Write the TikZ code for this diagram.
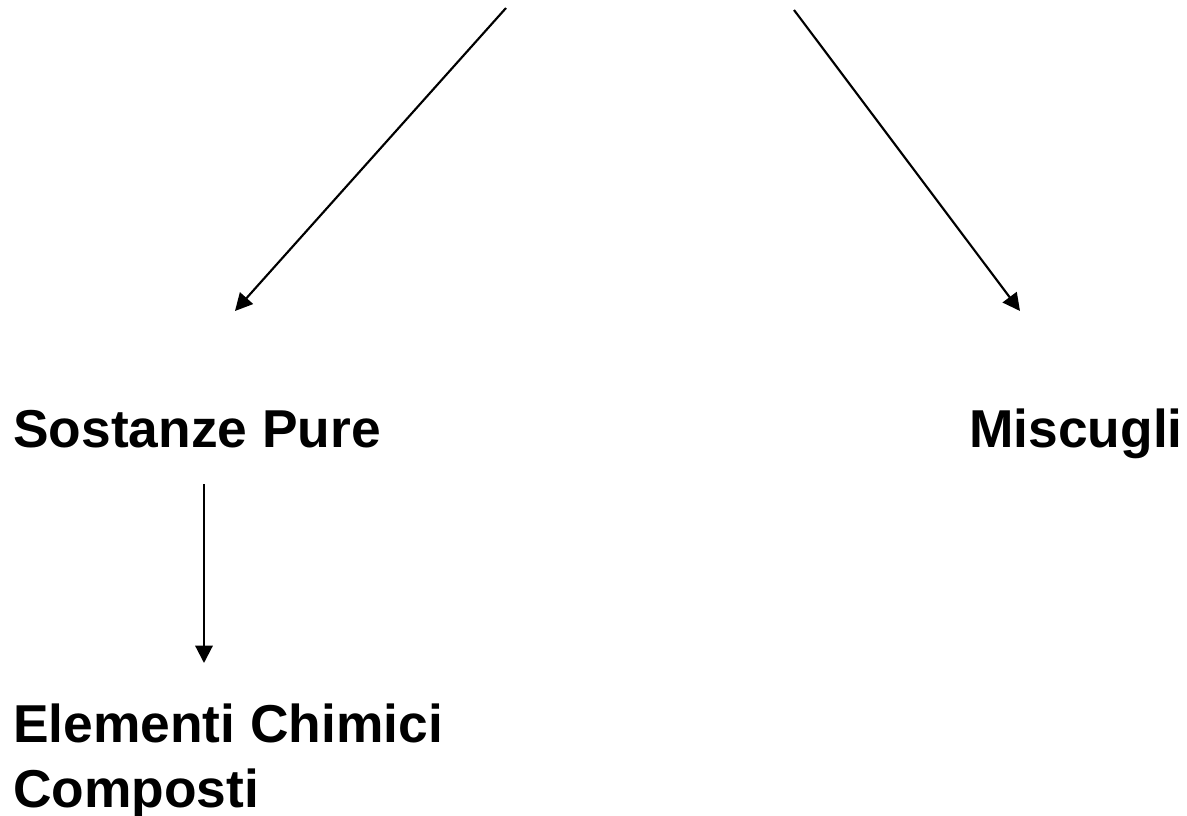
\documentclass[tikz,border=0pt]{standalone}
\usepackage{fontspec}
\setmainfont{Liberation Sans}
\usetikzlibrary{arrows.meta}
\begin{document}
\begin{tikzpicture}[x=0.75pt,y=-0.75pt,
  lbl/.style={anchor=base west,inner sep=0pt,font=\fontsize{40pt}{48.75pt}\selectfont\bfseries,align=left},
  conn/.style={line width=1.6pt,-{Triangle[length=13pt,width=13pt]}}]
\useasboundingbox (0,0) rectangle (1187,816);
\node[lbl] (sp) at (13,447) {Sostanze Pure};
\node[lbl] (mi) at (969,447) {Miscugli};
\node[lbl] (el) at (13,807) {Elementi Chimici\\Composti};
\coordinate (t1) at (506,8);
\coordinate (h1) at (235,311);
\coordinate (t2) at (794,10);
\coordinate (h2) at (1020,311);
\coordinate (t3) at (204,484);
\coordinate (h3) at (204,663);
\draw[conn] (t1) -- (h1);
\draw[conn] (t2) -- (h2);
\draw[conn] (t3) -- (h3);
\end{tikzpicture}
\end{document}
